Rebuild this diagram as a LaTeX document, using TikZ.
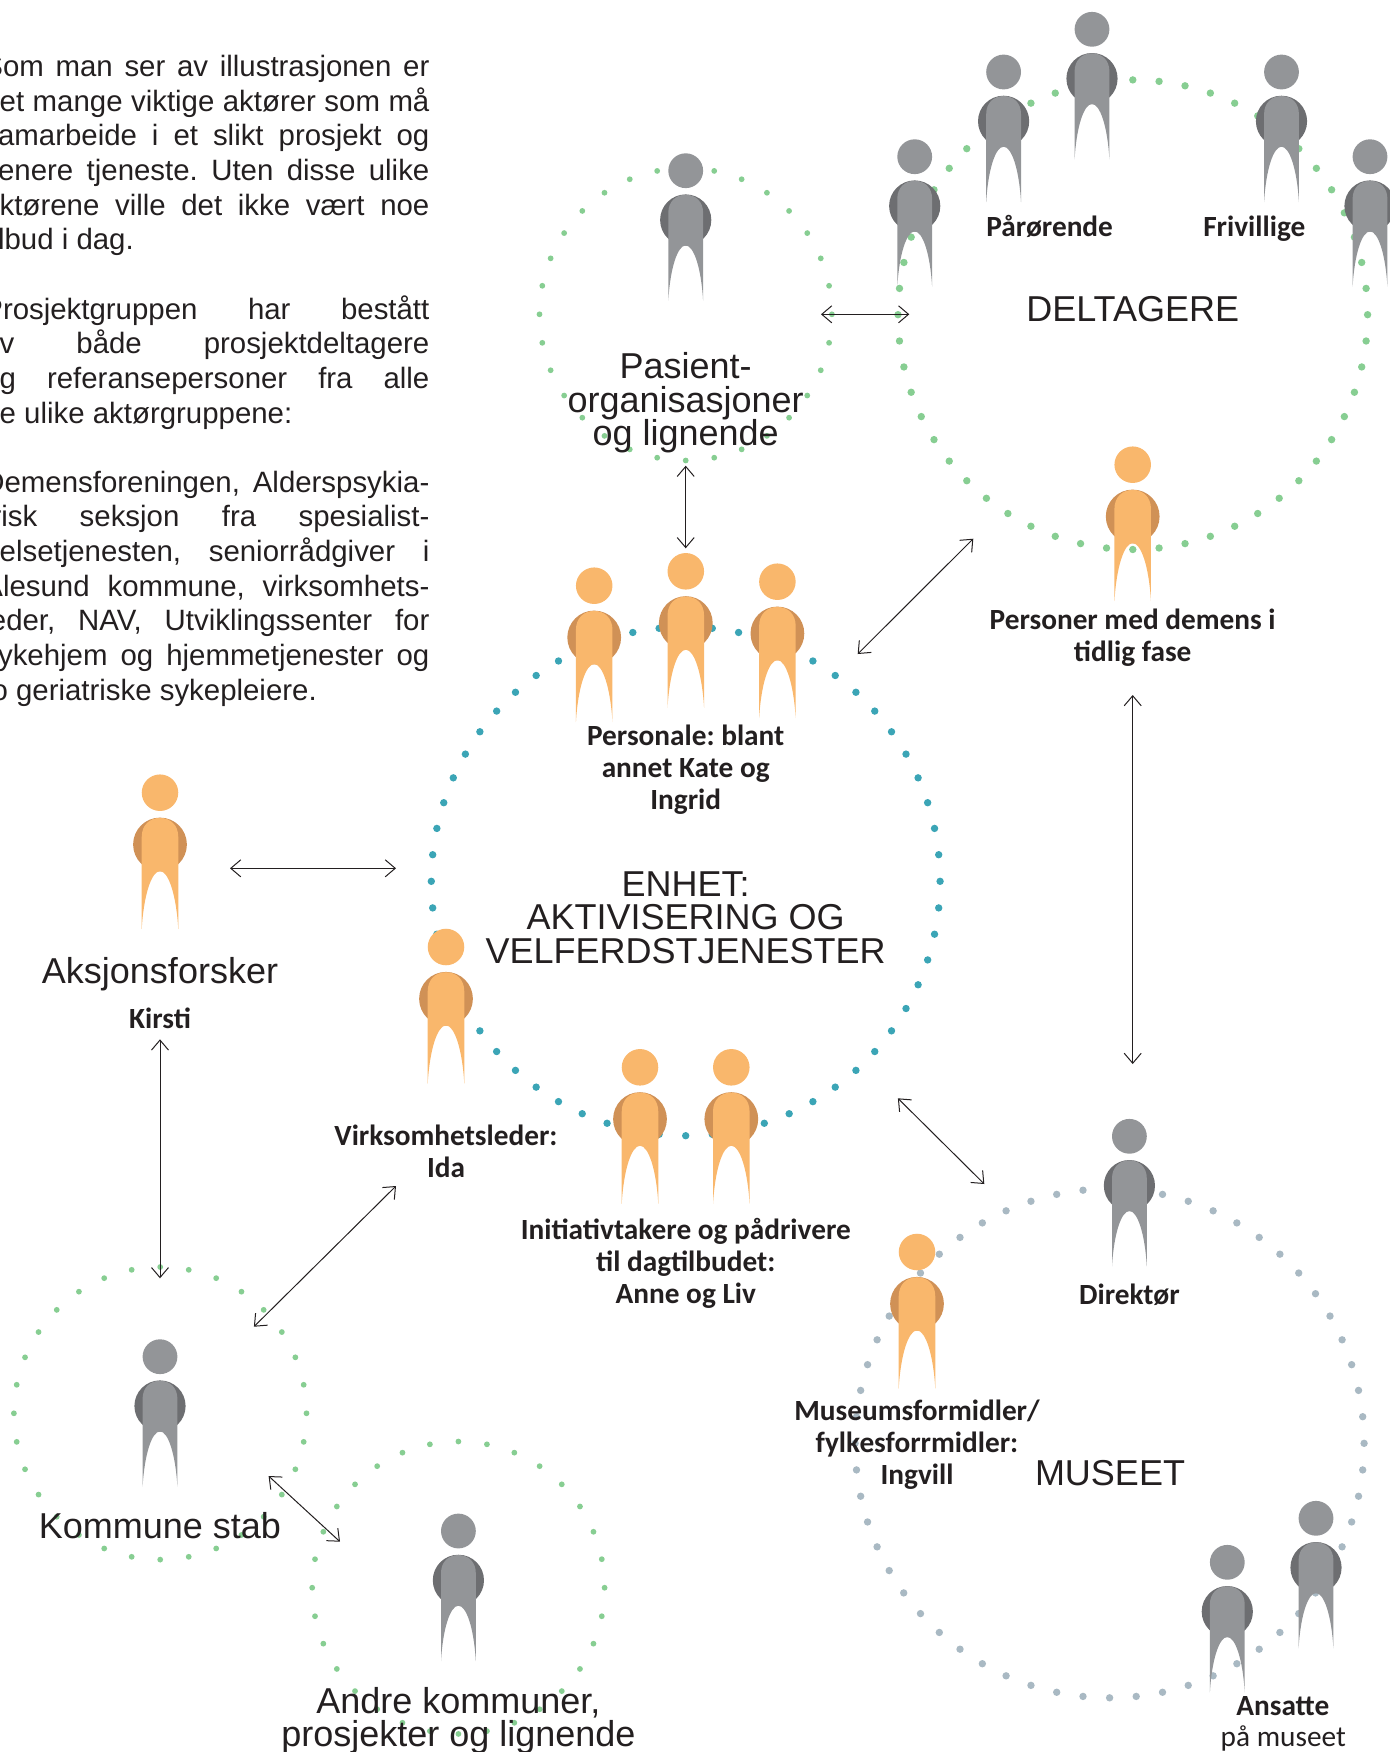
\documentclass[tikz,border=0pt]{standalone}
\usepackage{fontspec}
\usetikzlibrary{arrows.meta}
\setmainfont{Liberation Sans}
\newfontfamily\carlitof{Carlito}
\frenchspacing
\definecolor{inktext}{HTML}{231F20}
\definecolor{graymain}{HTML}{939598}
\definecolor{grayshade}{HTML}{6D6E71}
\definecolor{orgmain}{HTML}{F9B76C}
\definecolor{orgshade}{HTML}{D09156}
\definecolor{dotgreen}{HTML}{87CE92}
\definecolor{dotteal}{HTML}{3BA5B6}
\definecolor{dotslate}{HTML}{A9B9C3}
\newcommand\figperson[5]{%
  \begin{scope}[shift={(#1,#2)},scale=#3]
    \fill[#5] (0,49.3) circle[radius=25.6];
    \fill[#4] (0,0) circle[radius=17.4];
    \fill[#4] (-17.4,130) -- (-17.4,42) .. controls (-17.4,31) and (-10,24) .. (0,24)
      .. controls (10,24) and (17.4,31) .. (17.4,42) -- (17.4,130)
      .. controls (15.5,97) and (8,74.7) .. (0,74.7)
      .. controls (-8,74.7) and (-15.5,97) .. (-17.4,130) -- cycle;
  \end{scope}}
\newcommand\grayperson[2]{\figperson{#1}{#2}{1}{graymain}{grayshade}}
\newcommand\orgperson[2]{\figperson{#1}{#2}{1.05}{orgmain}{orgshade}}
\newcommand\dotring[6]{%
  \begin{scope}[shift={(#1,#2)}]
    \foreach \k in {1,...,#4}{\fill[#6] ({90+\k*(360/#4)}:#3) circle[radius=#5];}
  \end{scope}}
\newcommand\ctext[1]{\vbox{\lineskiplimit=-100pt\halign{\hfil##\hfil\cr#1\cr}}}
\newcommand\jl[1]{\hbox to 223pt{#1}}
\tikzset{
  biarrow/.style={draw=inktext,line width=0.5pt,
    {Straight Barb[length=5pt,width=8.5pt]}-{Straight Barb[length=5pt,width=8.5pt]}},
  bigtext/.style={inner sep=0pt,anchor=base,text=inktext,font=\fontsize{18pt}{16.67pt}\selectfont},
  boldtext/.style={inner sep=0pt,anchor=base,text=inktext,font=\carlitof\bfseries\fontsize{14.65pt}{16pt}\selectfont},
  regtext/.style={inner sep=0pt,anchor=base,text=inktext,font=\carlitof\fontsize{14.65pt}{16pt}\selectfont},
  bodytext/.style={inner sep=0pt,anchor=base west,text=inktext,font=\fontsize{14.7pt}{17.325pt}\selectfont},
}
\begin{document}
\begin{tikzpicture}[x=0.5pt,y=-0.5pt]
\useasboundingbox (0,0) rectangle (1390,1752);
\clip (0,0) rectangle (1390,1752);
% dotted rings
\dotring{1132.8}{314.7}{234.8}{56}{3.7}{dotgreen}
\dotring{685.7}{314.3}{146.2}{32}{2.9}{dotgreen}
\dotring{685.7}{881.3}{254.4}{60}{3.7}{dotteal}
\dotring{1109.6}{1443.3}{254.5}{60}{3.7}{dotslate}
\dotring{160.2}{1413.3}{146.3}{32}{2.9}{dotgreen}
\dotring{458.4}{1587.7}{146.2}{32}{2.9}{dotgreen}
% people
\grayperson{1092}{29.3}
\grayperson{1003.6}{72}
\grayperson{914.7}{156.7}
\grayperson{1281.5}{72}
\grayperson{1370}{156.7}
\grayperson{685.7}{170.7}
\orgperson{1132.7}{464.7}
\orgperson{594.2}{585.7}
\orgperson{685.8}{571.3}
\orgperson{777.4}{581.7}
\orgperson{160}{792.7}
\orgperson{446}{947}
\orgperson{640}{1067.3}
\orgperson{731.3}{1067.3}
\grayperson{160}{1356.7}
\grayperson{458.4}{1531}
\grayperson{1129.4}{1136.3}
\orgperson{917}{1252}
\grayperson{1227.3}{1562.3}
\grayperson{1316}{1518.3}
% connector ends
\coordinate (pasE) at (821,314.3);
\coordinate (delW) at (909.3,314.3);
\coordinate (pasS) at (685.7,465.7);
\coordinate (perN) at (685.7,548.3);
\coordinate (perE) at (857.7,654);
\coordinate (delSW) at (973.3,538.7);
\coordinate (delS) at (1132.7,695);
\coordinate (musN) at (1132.7,1064);
\coordinate (aksE) at (230,868.3);
\coordinate (enhW) at (396,868.3);
\coordinate (aksS) at (160,1039.3);
\coordinate (komN) at (160,1278.3);
\coordinate (idaSW) at (396,1186);
\coordinate (komNE) at (253.9,1326.7);
\coordinate (komSE) at (268.6,1476);
\coordinate (andNW) at (340,1541.7);
\coordinate (enhSE) at (897.9,1098.3);
\coordinate (musNW) at (984.3,1184);
\draw[biarrow] (pasE) -- (delW);
\draw[biarrow] (pasS) -- (perN);
\draw[biarrow] (perE) -- (delSW);
\draw[biarrow] (delS) -- (musN);
\draw[biarrow] (aksE) -- (enhW);
\draw[biarrow] (aksS) -- (komN);
\draw[biarrow] (idaSW) -- (komNE);
\draw[biarrow] (komSE) -- (andNW);
\draw[biarrow] (enhSE) -- (musNW);
% body text
\node[bodytext] (para1) at (-17,249.8) {\vbox{\lineskiplimit=-100pt
  \jl{Som man ser av illustrasjonen er}
  \jl{det mange viktige aktører som må}
  \jl{samarbeide i et slikt prosjekt og}
  \jl{senere tjeneste. Uten disse ulike}
  \jl{aktørene ville det ikke vært noe}
  \jl{tilbud i dag.\hfil}}};
\node[bodytext] (para2) at (-17,423) {\vbox{\lineskiplimit=-100pt
  \jl{Prosjektgruppen har bestått}
  \jl{av både prosjektdeltagere}
  \jl{og referansepersoner fra alle}
  \jl{de ulike aktørgruppene:\hfil}}};
\node[bodytext] (para3) at (-17,700.2) {\vbox{\lineskiplimit=-100pt
  \jl{Demensforeningen, Alderspsykia-}
  \jl{trisk seksjon fra spesialist-}
  \jl{helsetjenesten, seniorrådgiver i}
  \jl{Ålesund kommune, virksomhets-}
  \jl{leder, NAV, Utviklingssenter for}
  \jl{sykehjem og hjemmetjenester og}
  \jl{to geriatriske sykepleiere.\hfil}}};
% large labels
\node[bigtext] (deltagere) at (1132.7,321) {DELTAGERE};
\node[bigtext] (pasient) at (685.7,445.5) {\ctext{Pasient-\cr organisasjoner\cr og lignende}};
\node[bigtext] (enhet) at (685.7,963.3) {\ctext{ENHET:\cr AKTIVISERING OG\cr VELFERDSTJENESTER}};
\node[bigtext] (aksjon) at (160,983.7) {Aksjonsforsker};
\node[bigtext] (museet) at (1110,1485.5) {MUSEET};
\node[bigtext] (kommune) at (160,1538.5) {Kommune stab};
\node[bigtext] (andre) at (458.4,1746.5) {\ctext{Andre kommuner,\cr prosjekter og lignende}};
% bold labels
\node[boldtext] (parorende) at (1049.7,236.9) {Pårørende};
\node[boldtext] (frivillige) at (1254.3,236.9) {Frivillige};
\node[boldtext] (demens) at (1132.7,661.2) {\ctext{Personer med demens i\cr tidlig fase}};
\node[boldtext] (personale) at (685.7,809.5) {\ctext{Personale: blant\cr annet Kate og\cr Ingrid}};
\node[boldtext] (kirsti) at (160,1028.5) {Kirsti};
\node[boldtext] (ida) at (446,1177.2) {\ctext{Virksomhetsleder:\cr Ida}};
\node[boldtext] (initiativ) at (685.8,1303.5) {\ctext{Initiativtakere og pådrivere\cr til dagtilbudet:\cr Anne og Liv}};
\node[boldtext] (direktor) at (1129.4,1304.5) {Direktør};
\node[boldtext] (ingvill) at (917,1484.5) {\ctext{Museumsformidler/\cr fylkesforrmidler:\cr Ingvill}};
\node[boldtext] (ansatte) at (1282.8,1715.5) {Ansatte};
\node[regtext] (pamuseet) at (1283.3,1746.9) {på museet};
\end{tikzpicture}
\end{document}
